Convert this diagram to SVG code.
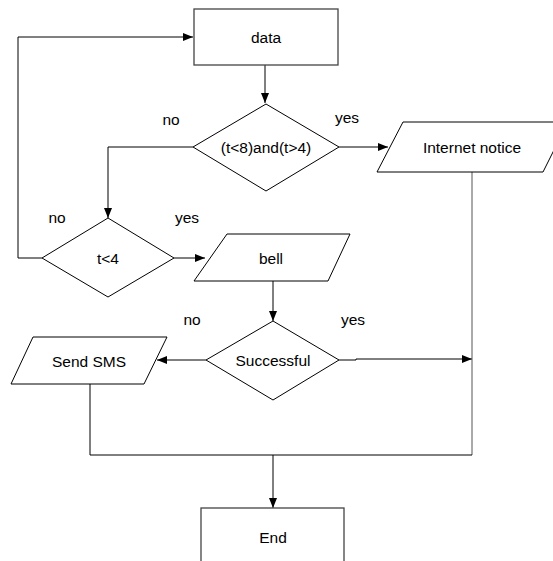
<svg xmlns="http://www.w3.org/2000/svg" width="553" height="561" viewBox="0 0 553 561">
<defs>
<marker id="arr" markerWidth="10" markerHeight="8" refX="10" refY="4" orient="auto" markerUnits="userSpaceOnUse">
<path d="M0,0 L10,4 L0,8 Z" fill="#000"/>
</marker>
<style>
.shape{fill:#fff;stroke:#000;stroke-width:1}
.box{fill:#fff;stroke:#444;stroke-width:1.3}
.edge{fill:none;stroke:#000;stroke-width:1}
.lbl{font-family:"Liberation Sans",Arial,sans-serif;font-size:15.5px;fill:#000;text-anchor:middle;dominant-baseline:central}
</style>
</defs>
<rect width="553" height="561" fill="#fff"/>
<g id="connectors">
<path class="edge" d="M265,65 V103" marker-end="url(#arr)"/>
<path class="edge" d="M339,147 H388" marker-end="url(#arr)"/>
<path class="edge" d="M193,147 H108 V218" marker-end="url(#arr)"/>
<path class="edge" d="M42,258 H18 V37 H193" marker-end="url(#arr)"/>
<path class="edge" d="M174,258 H205" marker-end="url(#arr)"/>
<path class="edge" d="M273,281 V321" marker-end="url(#arr)"/>
<path class="edge" d="M206,360 H157" marker-end="url(#arr)"/>
<path class="edge" d="M339,360 H356 V359 H472" marker-end="url(#arr)"/>
<path class="edge" d="M472,172 V455" style="stroke:#555"/>
<path class="edge" d="M90,384 V455 H472"/>
<path class="edge" d="M273,455 V508" marker-end="url(#arr)"/>
</g>
<g id="data">
<rect class="box" x="194" y="9" width="144" height="56"/>
<text class="lbl" x="266" y="37">data</text>
</g>
<g id="cond1">
<polygon class="shape" points="266,104 339,147 266,191 193,147"/>
<text class="lbl" x="266" y="147">(t&lt;8)and(t&gt;4)</text>
</g>
<g id="internet">
<polygon class="shape" points="403,122 568,122 543,172 377,172"/>
<text class="lbl" x="472" y="147">Internet notice</text>
</g>
<g id="cond2">
<polygon class="shape" points="108,218 174,258 108,297 42,258"/>
<text class="lbl" x="108" y="258">t&lt;4</text>
</g>
<g id="bell">
<polygon class="shape" points="227,234 350,234 328,281 194,281"/>
<text class="lbl" x="271" y="258">bell</text>
</g>
<g id="successful">
<polygon class="shape" points="273,321 339,360 273,400 206,360"/>
<text class="lbl" x="273" y="360">Successful</text>
</g>
<g id="sms">
<polygon class="shape" points="33,337 167,337 144,384 11,384"/>
<text class="lbl" x="89" y="361">Send SMS</text>
</g>
<g id="end">
<rect class="box" x="201" y="508" width="143" height="60"/>
<text class="lbl" x="273" y="537">End</text>
</g>
<g id="labels">
<text class="lbl" x="171" y="119">no</text>
<text class="lbl" x="347" y="117">yes</text>
<text class="lbl" x="57" y="217">no</text>
<text class="lbl" x="187" y="217">yes</text>
<text class="lbl" x="192" y="319">no</text>
<text class="lbl" x="353" y="319">yes</text>
</g>
</svg>
